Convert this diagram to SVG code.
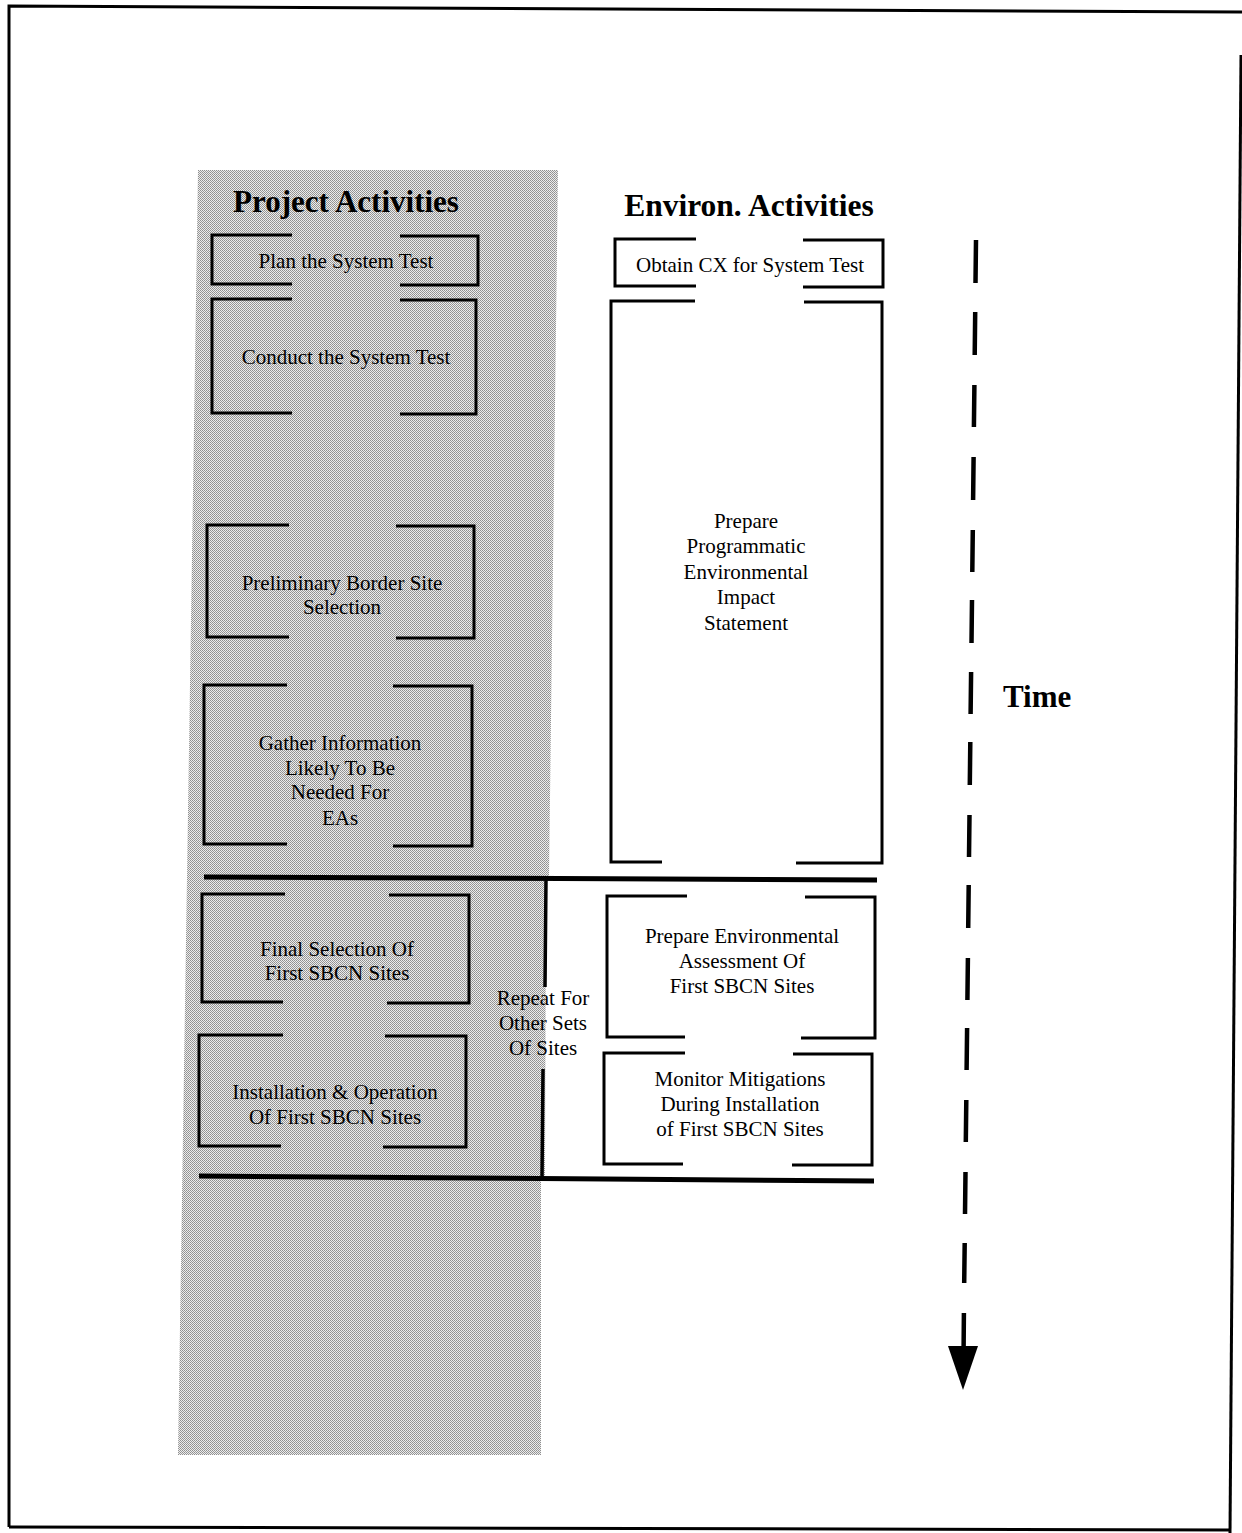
<svg xmlns="http://www.w3.org/2000/svg" width="1242" height="1533" viewBox="0 0 1242 1533">
<defs>
<pattern id="ht" width="2" height="2" patternUnits="userSpaceOnUse">
<rect width="2" height="2" fill="#ececec"/>
<rect width="1" height="1" fill="#8f8f8f"/>
<rect x="1" y="1" width="1" height="1" fill="#9a9a9a"/>
</pattern>
<style>
.box{fill:none;stroke:#000;stroke-width:3}
.lbl{font-family:"Liberation Serif","Times New Roman",serif;font-size:21px;text-anchor:middle;fill:#000}
.ttl{font-family:"Liberation Serif","Times New Roman",serif;font-size:31px;font-weight:bold;fill:#000}
.frame{fill:none;stroke:#000;stroke-width:3}
.thick{stroke:#000;stroke-width:5;fill:none}
.vbar{stroke:#000;stroke-width:3.5;fill:none}
.dash{stroke:#000;stroke-width:4.5;fill:none}
</style>
</defs>
<rect width="1242" height="1533" fill="#fff"/>
<g id="frame">
<path class="frame" d="M9,1527 L9,6 L1242,12"/>
<path class="frame" d="M1241,55 L1230,1533"/>
<path class="frame" d="M9,1527 L1230,1530"/>
</g>
<g id="project-lane">
<polygon points="198,170 558,170 549,876 546,880 545,1178 541,1180 541,1455 178,1455" fill="url(#ht)"/>
<text class="ttl" x="346" y="212" text-anchor="middle">Project Activities</text>
</g>
<g id="environ-lane">
<text class="ttl" x="749" y="216" text-anchor="middle" style="font-size:31.5px">Environ. Activities</text>
</g>
<g id="n-plan">
<path class="box" d="M292,235 H212 V284 H292 M400,236 H478 V285 H400"/>
<text class="lbl" x="346" y="268">Plan the System Test</text>
</g>
<g id="n-conduct">
<path class="box" d="M292,299 H212 V413 H292 M400,300 H476 V414 H400"/>
<text class="lbl" x="346" y="364">Conduct the System Test</text>
</g>
<g id="n-prelim">
<path class="box" d="M289,525 H207 V637 H289 M396,526 H474 V638 H396"/>
<text class="lbl" x="342" y="590">Preliminary Border Site</text>
<text class="lbl" x="342" y="614">Selection</text>
</g>
<g id="n-gather">
<path class="box" d="M287,685 H204 V844 H287 M393,686 H472 V846 H393"/>
<text class="lbl" x="340" y="750">Gather Information</text>
<text class="lbl" x="340" y="775">Likely To Be</text>
<text class="lbl" x="340" y="799">Needed For</text>
<text class="lbl" x="340" y="825">EAs</text>
</g>
<g id="n-final">
<path class="box" d="M285,894 H202 V1002 H283 M389,895 H469 V1003 H387"/>
<text class="lbl" x="337" y="956">Final Selection Of</text>
<text class="lbl" x="337" y="980">First SBCN Sites</text>
</g>
<g id="n-install">
<path class="box" d="M283,1035 H199 V1146 H281 M385,1036 H466 V1147 H383"/>
<text class="lbl" x="335" y="1099">Installation &amp; Operation</text>
<text class="lbl" x="335" y="1124">Of First SBCN Sites</text>
</g>
<g id="n-repeat">
<text class="lbl" x="543" y="1005">Repeat For</text>
<text class="lbl" x="543" y="1030">Other Sets</text>
<text class="lbl" x="543" y="1055">Of Sites</text>
</g>
<g id="n-obtain">
<path class="box" d="M696,239 H615 V286 H696 M803,240 H883 V287 H803"/>
<text class="lbl" x="750" y="272">Obtain CX for System Test</text>
</g>
<g id="n-ppeis">
<path class="box" d="M695,301 H611 V862 H662 M804,302 H882 V863 H796"/>
<text class="lbl" x="746" y="528">Prepare</text>
<text class="lbl" x="746" y="553">Programmatic</text>
<text class="lbl" x="746" y="579">Environmental</text>
<text class="lbl" x="746" y="604">Impact</text>
<text class="lbl" x="746" y="630">Statement</text>
</g>
<g id="n-prepare-ea">
<path class="box" d="M687,896 H607 V1037 H685 M805,897 H875 V1038 H801"/>
<text class="lbl" x="742" y="943">Prepare  Environmental</text>
<text class="lbl" x="742" y="968">Assessment  Of</text>
<text class="lbl" x="742" y="993">First SBCN Sites</text>
</g>
<g id="n-monitor">
<path class="box" d="M685,1053 H604 V1164 H683 M793,1054 H872 V1165 H792"/>
<text class="lbl" x="740" y="1086">Monitor  Mitigations</text>
<text class="lbl" x="740" y="1111">During  Installation</text>
<text class="lbl" x="740" y="1136">of First SBCN Sites</text>
</g>
<g id="n-time">
<text class="ttl" x="1003" y="707">Time</text>
</g>
<g id="connectors">
<path class="thick" d="M204,877 L877,880"/>
<path class="thick" d="M199,1176 L874,1181"/>
<path class="vbar" d="M546,880 L545,987 M543,1069 L542,1178"/>
<path class="dash" d="M976,240 L975.5,283 M975.2,312 L974.7,355 M974.4,385 L973.9,427 M973.6,457 L973.1,500 M972.8,530 L972.3,572 M972,600 L971.5,643 M971.1,672 L970.6,714 M970.3,742 L969.8,785 M969.5,815 L969,857 M968.7,885 L968.2,928 M967.9,958 L967.4,1000 M967.1,1028 L966.6,1070 M966.3,1100 L965.8,1142 M965.5,1172 L965,1214 M964.7,1243 L964.2,1283 M963.9,1313 L963.6,1350"/>
<polygon points="948,1346 978,1346 963,1390" fill="#000"/>
</g>
</svg>
